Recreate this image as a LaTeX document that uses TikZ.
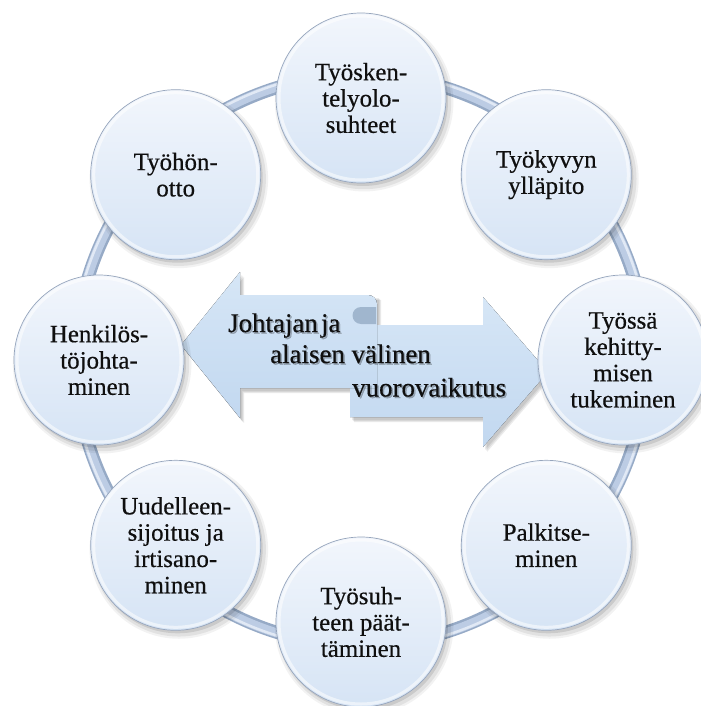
\documentclass[tikz,border=0pt]{standalone}
\usepackage{fontspec}
\setmainfont{Liberation Serif}
\newfontfamily\timesface{Liberation Serif}[FakeBold=0.5]
\usetikzlibrary{shadows}

\definecolor{ringdark}{RGB}{150,170,198}
\definecolor{ringmid}{RGB}{188,204,228}
\definecolor{ringhi}{RGB}{225,233,245}
\definecolor{bubtop}{RGB}{242,246,252}
\definecolor{bubbot}{RGB}{214,228,245}
\definecolor{bubrim}{RGB}{150,165,188}
\definecolor{arrowtop}{RGB}{214,230,246}
\definecolor{arrowbot}{RGB}{194,216,240}
\definecolor{curlcol}{RGB}{160,182,206}
\definecolor{inktext}{RGB}{15,15,15}

\begin{document}
\begin{tikzpicture}[x=1bp,y=-1bp,
  bubble/.style={circle, minimum size=170bp, inner sep=0pt, align=center,
    text=inktext, font=\timesface\fontsize{25}{26.4}\selectfont,
    top color=bubtop, bottom color=bubbot, draw=bubrim, line width=0.7bp,
    general shadow={shadow scale=1.05, shadow xshift=3bp, shadow yshift=-4bp, fill=black, opacity=0.05},
    general shadow={shadow scale=1.025, shadow xshift=3bp, shadow yshift=-4bp, fill=black, opacity=0.07},
    general shadow={shadow scale=1.0, shadow xshift=2bp, shadow yshift=-3bp, fill=black, opacity=0.10}},
  bevel/.style={draw=white, line width=3bp, opacity=0.55},
  midtext/.style={anchor=base west, inner sep=0pt, text=inktext,
    font=\timesface\fontsize{27}{32}\selectfont},
  midshadow/.style={anchor=base west, inner sep=0pt, text=black, opacity=0.25,
    font=\timesface\fontsize{27}{32}\selectfont},
  arrowfill/.style={top color=arrowtop, bottom color=arrowbot},
  arrowshade/.style={fill=black, opacity=0.08},
]
\useasboundingbox (0,0) rectangle (701,706);

% centre of the ring
\coordinate (C) at (361,360);

% the ring that links all the topics
\draw[ringdark, line width=13bp] (C) circle[radius=285bp];
\draw[ringmid, line width=9bp] (C) circle[radius=285.5bp];
\draw[ringhi, line width=2.5bp] (C) circle[radius=288bp];

% soft shadow under the two opposing arrows
\foreach \dx/\dy in {4/5, 3/4, 2/3} {
  \fill[arrowshade, shift={(\dx,\dy)}]
    (181,345) -- (240,272) -- (240,295) -- (377,295) -- (377,388)
    -- (240,388) -- (240,418) -- cycle;
  \fill[arrowshade, shift={(\dx,\dy)}]
    (548,372) -- (483,297) -- (483,325) -- (350,325) -- (350,417)
    -- (483,417) -- (483,447) -- cycle;
}

% lower arrow pointing right
\fill[arrowfill]
  (548,372) -- (483,297) -- (483,325) -- (350,325) -- (350,417)
  -- (483,417) -- (483,447) -- cycle;
% upper arrow pointing left, its tail rolled up
\fill[arrowfill]
  (181,345) -- (240,272) -- (240,295) -- (368,295)
  to[out=0,in=90] (377,304) -- (377,388)
  -- (240,388) -- (240,418) -- cycle;
\fill[curlcol] (376,307) -- (361,307) arc[start angle=90, end angle=270, radius=8.5bp]
  -- (376,324) -- cycle;

% the interaction text with its soft shadow
\node[midshadow] (s1) at (229.5,333.5) {Johtajan\hspace{0.12em}ja};
\node[midshadow] (s2) at (271.5,364.5) {alaisen välinen};
\node[midshadow] (s3) at (353.5,398) {vuorovaikutus};
\node[midtext] (t1) at (228,332) {Johtajan\hspace{0.12em}ja};
\node[midtext] (t2) at (270,363) {alaisen välinen};
\node[midtext] (t3) at (352,396.5) {vuorovaikutus};

% the eight topics around the ring
\node[bubble] (n1) at (361,98)      {Työsken-\\telyolo-\\suhteet};
\node[bubble] (n2) at (546.3,174.7) {Työkyvyn\\ylläpito};
\node[bubble] (n3) at (623,360)     {Työssä\\kehitty-\\misen\\tukeminen};
\node[bubble] (n4) at (546.3,545.3) {Palkitse-\\minen};
\node[bubble] (n5) at (361,622)     {Työsuh-\\teen päät-\\täminen};
\node[bubble] (n6) at (175.7,545.3) {Uudelleen-\\sijoitus ja\\irtisano-\\minen};
\node[bubble] (n7) at (99,360)      {Henkilös-\\töjohta-\\minen};
\node[bubble] (n8) at (175.7,174.7) {Työhön-\\otto};

% inner highlight along each rim
\foreach \n in {n1,n2,n3,n4,n5,n6,n7,n8}
  \draw[bevel] (\n.center) circle[radius=82bp];
\end{tikzpicture}
\end{document}
